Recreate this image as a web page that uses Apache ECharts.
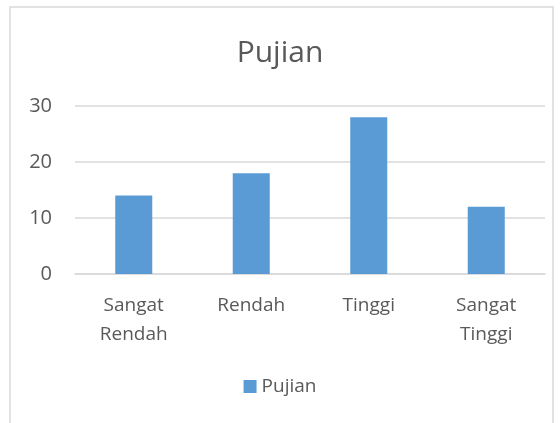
<!DOCTYPE html>
<html>
<head>
<meta charset="utf-8">
<script src="https://cdn.jsdelivr.net/npm/echarts@6/dist/echarts.min.js"></script>
<style>
  html, body { margin: 0; padding: 0; background: #fff; }
  #chart { width: 560px; height: 423px; }
</style>
</head>
<body>
<div id="chart"></div>
<script>
  // data
  const categories = ['Sangat\nRendah', 'Rendah', 'Tinggi', 'Sangat\nTinggi'];
  const pujianValues = [14, 18, 28, 12];
  const yTicks = [0, 10, 20, 30];

  const FONT = '"Open Sans", "Noto Sans", sans-serif';
  const TEXT_COLOR = '#595959';

  const chart = echarts.init(document.getElementById('chart'));

  let option = {
    animation: false,
    backgroundColor: '#fff',
    textStyle: { fontFamily: FONT },
    graphic: [{
      type: 'rect',
      shape: { x: 10, y: 7, width: 543, height: 440 },
      style: { fill: 'none', stroke: '#d9d9d9', lineWidth: 1.5 },
      silent: true,
      z: -10
    }],
    title: {
      text: 'Pujian',
      left: 'center',
      top: 33,
      textStyle: { fontFamily: FONT, fontSize: 30, fontWeight: 'normal', color: TEXT_COLOR }
    },
    legend: {
      bottom: 22,
      left: 'center',
      icon: 'rect',
      itemWidth: 13,
      itemHeight: 13,
      itemGap: 6,
      textStyle: { fontFamily: FONT, fontSize: 19, color: TEXT_COLOR },
      data: ['Pujian']
    },
    grid: { left: 75, right: 15, top: 106, bottom: 149, containLabel: false },
    xAxis: {
      type: 'category',
      data: categories,
      axisLine: { lineStyle: { color: '#d9d9d9', width: 1.5 } },
      axisTick: { show: false },
      axisLabel: {
        fontFamily: FONT, fontSize: 19, color: TEXT_COLOR,
        lineHeight: 29, margin: 17, interval: 0
      }
    },
    yAxis: {
      type: 'value',
      min: yTicks[0],
      max: yTicks[yTicks.length - 1],
      interval: 10,
      axisLine: { show: false },
      axisTick: { show: false },
      axisLabel: { fontFamily: FONT, fontSize: 20, color: TEXT_COLOR, margin: 23 },
      splitLine: { lineStyle: { color: '#d9d9d9', width: 1.5 } }
    },
    series: [{
      name: 'Pujian',
      type: 'bar',
      data: pujianValues,
      barWidth: '31.5%',
      itemStyle: { color: '#5b9bd5' }
    }]
  };

  chart.setOption(option);
</script>
</body>
</html>
